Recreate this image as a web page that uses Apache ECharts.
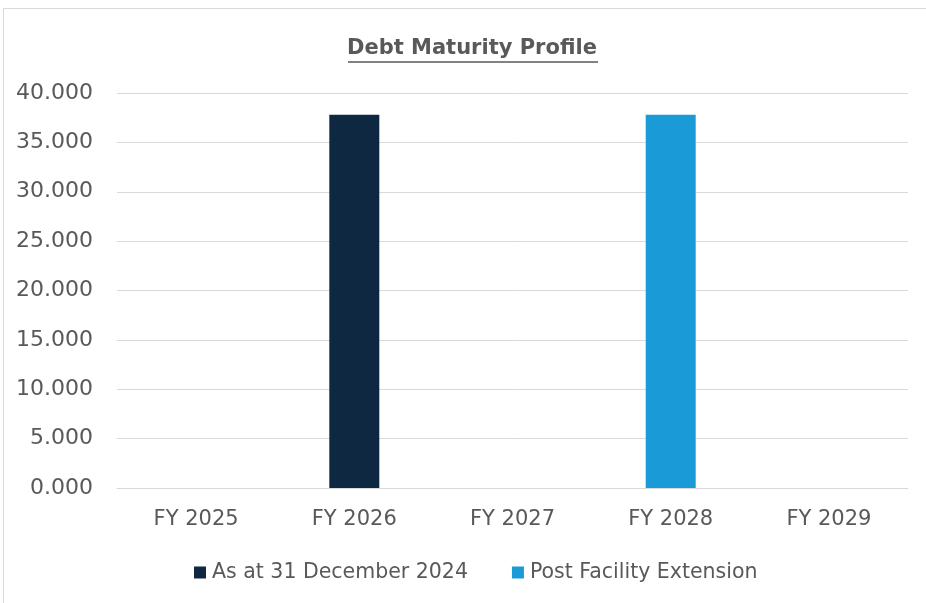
<!DOCTYPE html>
<html>
<head>
<meta charset="utf-8">
<script src="https://cdn.jsdelivr.net/npm/echarts@6/dist/echarts.min.js"></script>
<style>html,body{margin:0;padding:0;background:#fff}#c{width:926px;height:603px}</style>
</head>
<body>
<div id="c"></div>
<script>
const categories = ['FY 2025', 'FY 2026', 'FY 2027', 'FY 2028', 'FY 2029'];
const seriesNames = ['As at 31 December 2024', 'Post Facility Extension'];
const asAtDec2024 = [null, 37.8, null, null, null];
const postExtension = [null, null, null, 37.8, null];
const yTicks = { min: 0, max: 40, interval: 5 };

const chart = echarts.init(document.getElementById('c'), null, { renderer: 'canvas' });
const font = '"DejaVu Sans", sans-serif';
chart.setOption({
  animation: false,
  backgroundColor: '#ffffff',
  title: {
    text: 'Debt Maturity Profile',
    left: 347,
    top: 38,
    padding: 0,
    textStyle: { fontFamily: font, fontSize: 21, fontWeight: 'bold', color: '#595959' }
  },
  graphic: [
    { type: 'rect', shape: { x: 3.5, y: 8.5, width: 940, height: 620 }, style: { fill: 'none', stroke: '#d9d9d9', lineWidth: 1 }, silent: true },
    { type: 'line', shape: { x1: 348, y1: 62, x2: 598, y2: 62 }, style: { stroke: '#595959', lineWidth: 1.5 }, silent: true }
  ],
  legend: {
    top: 562,
    left: 194,
    padding: 0,
    itemWidth: 12,
    itemHeight: 12,
    itemGap: 44,
    icon: 'rect',
    textStyle: { fontFamily: font, fontSize: 20.5, color: '#595959', padding: [0, 0, 0, 1] },
    data: seriesNames
  },
  grid: { left: 117, right: 18, top: 93, bottom: 115, containLabel: false },
  xAxis: {
    type: 'category',
    data: categories,
    axisLine: { lineStyle: { color: '#d9d9d9', width: 1 } },
    axisTick: { show: false },
    axisLabel: { fontFamily: font, fontSize: 21, color: '#595959', margin: 21 }
  },
  yAxis: {
    type: 'value',
    min: yTicks.min, max: yTicks.max, interval: yTicks.interval,
    axisLine: { show: false },
    axisTick: { show: false },
    splitLine: { lineStyle: { color: '#d9d9d9', width: 1 } },
    axisLabel: { fontFamily: font, fontSize: 22, color: '#595959', margin: 24, formatter: v => v.toFixed(3) }
  },
  series: [
    { name: seriesNames[0], type: 'bar', data: asAtDec2024, barWidth: 50, barGap: '-100%', itemStyle: { color: '#0e2841' } },
    { name: seriesNames[1], type: 'bar', data: postExtension, barWidth: 50, itemStyle: { color: '#1a9bd7' } }
  ]
});
</script>
</body>
</html>
